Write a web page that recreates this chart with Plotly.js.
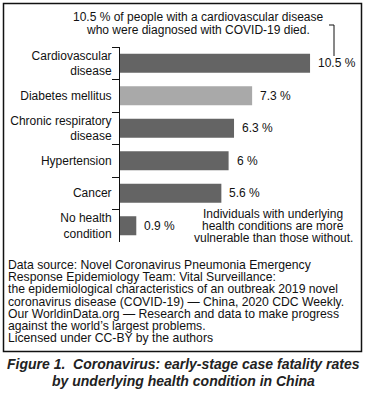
<!DOCTYPE html>
<html><head><meta charset="utf-8">
<script src="https://cdn.plot.ly/plotly-3.0.1.min.js"></script>
<style>html,body{margin:0;padding:0;background:#fff}#chart{width:368px;height:394px}</style>
</head><body><div id="chart"></div>
<script>
const categories = ["Cardiovascular<br>disease", "Diabetes mellitus", "Chronic respiratory<br>disease", "Hypertension", "Cancer", "No health<br>condition"];
const rates = [10.5, 7.3, 6.3, 6, 5.6, 0.9];
const valueLabels = ["10.5 %", "7.3 %", "6.3 %", "6 %", "5.6 %", "0.9 %"];
const calloutLines = ["10.5 % of people with a cardiovascular disease", "who were diagnosed with COVID-19 died."];
const noteLines = ["Individuals with underlying", "health conditions are more", "vulnerable than those without."];
const sourceLines = [
  "Data source: Novel Coronavirus Pneumonia Emergency",
  "Response Epidemiology Team: Vital Surveillance:",
  "the epidemiological characteristics of an outbreak 2019 novel",
  "coronavirus disease (COVID-19) \u2014 China, 2020 CDC Weekly.",
  "Our WorldinData.org \u2014 Research and data to make progress",
  "against the world\u2019s largest problems.",
  "Licensed under CC-BY by the authors"
];
const captionLines = ["Figure 1.  Coronavirus: early-stage case fatality rates", "by underlying health condition in China"];

const FONT = "Liberation Sans, Arial, Helvetica, sans-serif";
const PL = 120, PW = 242, PT = 47, PH = 195;
const fx = px => (px - PL) / PW;
const fy = py => (PT + PH - py) / PH;
const pxPerUnit = 18.1;

const colors = categories.map((c, i) => i === 1 ? "#a9a9a9" : "#646464");

const annotations = [];
rates.forEach((v, i) => annotations.push({
  x: v, y: categories[i], xref: "x", yref: "y", text: valueLabels[i],
  showarrow: false, xanchor: "left", yanchor: "middle", xshift: 6,
  font: {family: FONT, size: 12, color: "#111"}
}));
calloutLines.forEach((t, i) => annotations.push({
  x: fx(198), y: fy(17 + i * 12.5), xref: "paper", yref: "paper", text: t,
  showarrow: false, xanchor: "center", yanchor: "middle",
  font: {family: FONT, size: 12, color: "#111"}
}));
noteLines.forEach((t, i) => annotations.push({
  x: fx(273), y: fy(214 + i * 11.8), xref: "paper", yref: "paper", text: t,
  showarrow: false, xanchor: "center", yanchor: "middle",
  font: {family: FONT, size: 12, color: "#111"}
}));
sourceLines.forEach((t, i) => annotations.push({
  x: fx(5.5), y: fy(265 + i * 12.2), xref: "paper", yref: "paper", text: t,
  showarrow: false, xanchor: "left", yanchor: "middle",
  font: {family: FONT, size: 12.2, color: "#111"}
}));
captionLines.forEach((t, i) => annotations.push({
  x: fx(183), y: fy(364 + i * 16.5), xref: "paper", yref: "paper", text: "<b><i>" + t + "</i></b>",
  showarrow: false, xanchor: "center", yanchor: "middle",
  font: {family: FONT, size: 14, color: "#222"}
}));

const shapes = [
  {type: "rect", xref: "paper", yref: "paper", x0: fx(3.5), x1: fx(361.5), y0: fy(351.5), y1: fy(3.5),
   line: {color: "#111", width: 1.5}, fillcolor: "rgba(0,0,0,0)", layer: "below"},
  {type: "path", xref: "paper", yref: "paper",
   path: `M ${fx(329)} ${fy(25)} L ${fx(334)} ${fy(25)} L ${fx(334)} ${fy(56)}`,
   line: {color: "#111", width: 1}}
];

const data = [{
  type: "bar", orientation: "h", x: rates, y: categories,
  marker: {color: colors, line: {width: 0}}, hoverinfo: "none"
}];

const layout = {
  width: 368, height: 394,
  margin: {l: PL, r: 368 - PL - PW, t: PT, b: 394 - PT - PH, pad: 0},
  paper_bgcolor: "#fff", plot_bgcolor: "#fff",
  showlegend: false, bargap: 0.415,
  font: {family: FONT, size: 12, color: "#111"},
  xaxis: {range: [0, PW / pxPerUnit], showgrid: false, zeroline: false, showticklabels: false, ticks: "", showline: false, fixedrange: true},
  yaxis: {type: "category", range: [5.5, -0.5], showgrid: false, zeroline: false,
    showline: true, linecolor: "#111", linewidth: 1,
    ticks: "outside", ticklen: 7, tickcolor: "#111", tickwidth: 1, tickson: "boundaries",
    tickfont: {family: FONT, size: 12, color: "#111"}, ticklabelstandoff: 5, fixedrange: true},
  annotations: annotations, shapes: shapes
};

Plotly.newPlot("chart", data, layout, {displayModeBar: false, staticPlot: true});
</script></body></html>
